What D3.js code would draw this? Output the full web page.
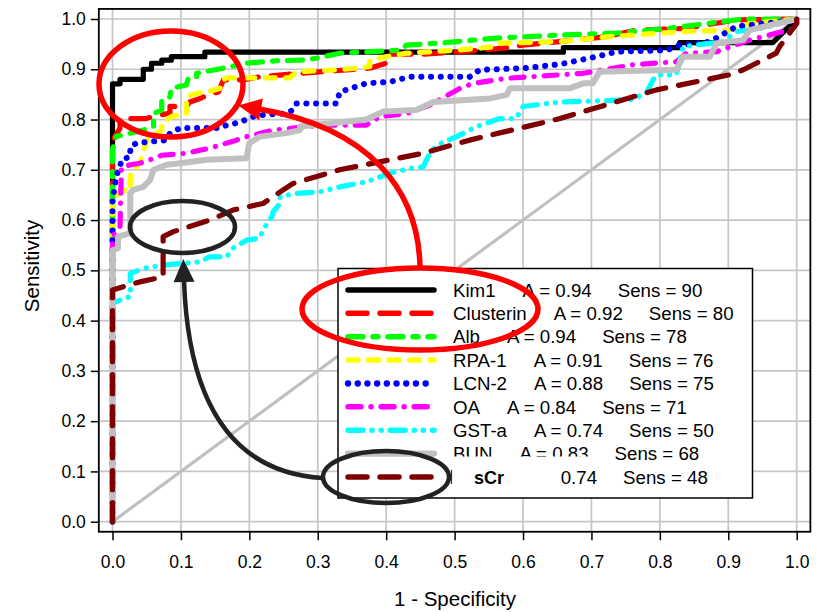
<!DOCTYPE html>
<html>
<head>
<meta charset="utf-8">
<script src="https://cdn.jsdelivr.net/npm/d3@7"></script>
<style>
body{margin:0;background:#fff}
text{font-family:"Liberation Sans",Arial,sans-serif;fill:#000}
</style>
</head>
<body>
<svg id="roc" width="819" height="612"></svg>
<script>
// legend texts
var names=["Kim1","Clusterin","Alb","RPA-1","LCN-2","OA","GST-a","BUN","sCr"]
var aucLabels=["A = 0.94","A = 0.92","A = 0.94","A = 0.91","A = 0.88","A = 0.84","A = 0.74","A = 0.83","A = 0.74"]
var sensLabels=["Sens = 90","Sens = 80","Sens = 78","Sens = 76","Sens = 75","Sens = 71","Sens = 50","Sens = 68","Sens = 48"]
var tickValues=[0,0.1,0.2,0.3,0.4,0.5,0.6,0.7,0.8,0.9,1.0]

// ROC curves, [1-specificity, sensitivity]
var kim1=[[0,0],[0,0.871],[0.011,0.871],[0.011,0.880],[0.045,0.880],[0.045,0.900],[0.057,0.900],[0.057,0.912],[0.072,0.912],[0.072,0.918],[0.086,0.918],[0.086,0.925],[0.135,0.925],[0.135,0.934],[0.659,0.934],[0.659,0.943],[0.829,0.943],[0.829,0.953],[0.965,0.953],[1,1]]
var clusterin=[[0,0],[0,0.757],[0.011,0.783],[0.011,0.802],[0.049,0.802],[0.06,0.806],[0.084,0.813],[0.084,0.826],[0.108,0.826],[0.113,0.835],[0.128,0.842],[0.142,0.850],[0.155,0.855],[0.160,0.872],[0.162,0.879],[0.191,0.879],[0.215,0.885],[0.274,0.892],[0.376,0.902],[0.40,0.912],[0.405,0.930],[0.454,0.930],[0.512,0.935],[0.571,0.942],[0.60,0.948],[0.654,0.955],[0.722,0.965],[0.766,0.978],[0.834,0.981],[0.912,0.998],[1,1]]
var alb=[[0,0],[0,0.74],[0.005,0.766],[0.045,0.779],[0.06,0.786],[0.06,0.812],[0.072,0.819],[0.072,0.839],[0.084,0.845],[0.086,0.862],[0.108,0.869],[0.111,0.882],[0.123,0.885],[0.123,0.892],[0.150,0.899],[0.172,0.905],[0.196,0.912],[0.240,0.917],[0.274,0.918],[0.298,0.922],[0.332,0.932],[0.420,0.938],[0.43,0.948],[0.478,0.952],[0.561,0.962],[0.654,0.968],[0.737,0.972],[0.81,0.981],[0.921,1],[1,1]]
var rpa1=[[0,0],[0,0.63],[0.011,0.659],[0.026,0.659],[0.026,0.693],[0.04,0.713],[0.05,0.759],[0.072,0.779],[0.072,0.793],[0.086,0.806],[0.108,0.812],[0.108,0.845],[0.123,0.852],[0.138,0.855],[0.157,0.862],[0.162,0.879],[0.167,0.883],[0.259,0.883],[0.269,0.895],[0.332,0.899],[0.376,0.905],[0.376,0.918],[0.40,0.925],[0.43,0.932],[0.503,0.938],[0.561,0.945],[0.566,0.952],[0.654,0.955],[0.727,0.965],[0.834,0.975],[0.902,0.978],[0.931,0.991],[1,1]]
var lcn2=[[0,0],[0,0.64],[0.006,0.69],[0.011,0.706],[0.013,0.720],[0.026,0.726],[0.026,0.746],[0.035,0.753],[0.055,0.756],[0.079,0.759],[0.084,0.773],[0.099,0.783],[0.157,0.783],[0.167,0.789],[0.181,0.793],[0.196,0.800],[0.206,0.806],[0.225,0.810],[0.254,0.812],[0.264,0.819],[0.269,0.832],[0.328,0.832],[0.332,0.855],[0.371,0.872],[0.405,0.875],[0.435,0.885],[0.522,0.885],[0.537,0.899],[0.60,0.902],[0.654,0.910],[0.707,0.925],[0.737,0.935],[0.81,0.938],[0.829,0.948],[0.873,0.955],[0.912,0.985],[1,0.998],[1,1]]
var oa=[[0,0],[0,0.567],[0.011,0.587],[0.013,0.704],[0.026,0.710],[0.04,0.713],[0.055,0.720],[0.072,0.729],[0.108,0.733],[0.142,0.743],[0.157,0.749],[0.181,0.759],[0.196,0.766],[0.235,0.779],[0.264,0.783],[0.308,0.789],[0.371,0.789],[0.391,0.806],[0.43,0.812],[0.464,0.829],[0.508,0.862],[0.527,0.872],[0.576,0.882],[0.654,0.889],[0.688,0.892],[0.761,0.909],[0.824,0.915],[0.839,0.932],[0.883,0.935],[0.931,0.958],[1,0.982],[1,1]]
var gsta=[[0,0],[0,0.434],[0.006,0.438],[0.026,0.448],[0.026,0.494],[0.045,0.504],[0.079,0.511],[0.103,0.514],[0.128,0.517],[0.142,0.527],[0.167,0.527],[0.176,0.544],[0.196,0.560],[0.215,0.564],[0.220,0.580],[0.233,0.607],[0.235,0.617],[0.245,0.633],[0.245,0.647],[0.269,0.653],[0.303,0.656],[0.332,0.666],[0.371,0.676],[0.405,0.693],[0.435,0.703],[0.454,0.706],[0.464,0.733],[0.474,0.749],[0.503,0.766],[0.532,0.786],[0.566,0.802],[0.59,0.802],[0.60,0.826],[0.654,0.835],[0.756,0.839],[0.78,0.852],[0.79,0.879],[0.795,0.889],[0.824,0.889],[0.834,0.945],[0.892,0.955],[0.912,0.975],[0.951,0.982],[1,1]]
var bun=[[0,0],[0,0.54],[0.008,0.544],[0.008,0.567],[0.026,0.574],[0.026,0.653],[0.03,0.660],[0.045,0.666],[0.055,0.680],[0.06,0.700],[0.079,0.710],[0.099,0.713],[0.138,0.720],[0.196,0.723],[0.198,0.740],[0.20,0.753],[0.215,0.766],[0.254,0.773],[0.274,0.779],[0.274,0.786],[0.371,0.800],[0.396,0.816],[0.444,0.819],[0.469,0.835],[0.552,0.842],[0.576,0.849],[0.581,0.862],[0.668,0.862],[0.688,0.872],[0.702,0.872],[0.712,0.895],[0.824,0.899],[0.834,0.925],[0.873,0.925],[0.883,0.952],[0.922,0.958],[0.931,0.978],[1,1]]
var scr=[[0,0],[0,0.461],[0.04,0.477],[0.074,0.487],[0.074,0.567],[0.089,0.577],[0.142,0.600],[0.176,0.620],[0.220,0.633],[0.235,0.647],[0.264,0.673],[0.332,0.700],[0.454,0.733],[0.522,0.759],[0.654,0.802],[0.795,0.859],[0.902,0.889],[0.922,0.899],[0.97,0.932],[0.975,0.945],[1,0.991],[1,1]]
var diagonal=[[0,0],[1,1]]

var series=[kim1,clusterin,alb,rpa1,lcn2,oa,gsta,bun,scr]

// line looks, in legend order
var styles=[
    {color:"#000000",dash:null,w:5.2},
    {color:"#ff0000",dash:"19,13",w:5.2},
    {color:"#00ff00",dash:"15,10,5,10",w:5.2},
    {color:"#ffff00",dash:"10,10.5",w:5.2},
    {color:"#0000ff",dash:"0.1,9.6",w:6},
    {color:"#ff00ff",dash:"13,10,0.1,10",w:5.2},
    {color:"#00ffff",dash:"15,9,0.1,9,0.1,9",w:5.2},
    {color:"#c0c0c0",dash:null,w:6},
    {color:"#7f0000",dash:"19,13",w:5.2}
]

var svg=d3.select("#roc")
var xScale=d3.scaleLinear().domain([0,1]).range([112.5,796.7])
var yScale=d3.scaleLinear().domain([0,1]).range([521.7,19])
var box={left:xScale(-0.02),right:xScale(1.02),top:yScale(1.02),bottom:yScale(-0.02)}

//grid
var grid=svg.append("g").attr("stroke","#c6c6c6").attr("stroke-width",1.7)
grid.selectAll(".gx").data(tickValues).enter().append("line")
    .attr("x1",function(d){return xScale(d)}).attr("x2",function(d){return xScale(d)})
    .attr("y1",box.top).attr("y2",box.bottom)
grid.selectAll(".gy").data(tickValues).enter().append("line")
    .attr("y1",function(d){return yScale(d)}).attr("y2",function(d){return yScale(d)})
    .attr("x1",box.left).attr("x2",box.right)

var lineGenerator=d3.line()
    .x(function(d){return xScale(d[0])})
    .y(function(d){return yScale(d[1])})

//chance line
svg.append("path").datum(diagonal).attr("d",lineGenerator)
    .attr("fill","none").attr("stroke","#c0c0c0").attr("stroke-width",3.2)

//curves
svg.append("g").selectAll("path").data(series).enter().append("path")
    .attr("d",lineGenerator)
    .attr("fill","none")
    .attr("stroke",function(d,i){return styles[i].color})
    .attr("stroke-width",function(d,i){return styles[i].w})
    .attr("stroke-dasharray",function(d,i){return styles[i].dash})
    .attr("stroke-linecap",function(d,i){return styles[i].dash?"round":"butt"})
    .attr("stroke-linejoin","round")

//box
svg.append("rect").attr("x",box.left).attr("y",box.top)
    .attr("width",box.right-box.left).attr("height",box.bottom-box.top)
    .attr("fill","none").attr("stroke","#000").attr("stroke-width",1.8)

//axes
var fmt=d3.format(".1f")
svg.append("g").attr("transform","translate(0,"+box.bottom+")")
    .call(d3.axisBottom(xScale).tickValues(tickValues).tickFormat(fmt).tickSize(8.5).tickPadding(15))
svg.append("g").attr("transform","translate("+box.left+",0)")
    .call(d3.axisLeft(yScale).tickValues(tickValues).tickFormat(fmt).tickSize(8).tickPadding(5))
svg.selectAll(".domain").remove()
svg.selectAll(".tick line").attr("stroke","#000").attr("stroke-width",1.5)
svg.selectAll(".tick text").attr("font-size",17.5).attr("font-family","Liberation Sans, Arial, sans-serif").attr("fill","#000")

//titles
svg.append("text").text("1 - Specificity").attr("x",455).attr("y",606)
    .attr("text-anchor","middle").attr("font-size",20.5)
svg.append("text").text("Sensitivity").attr("transform","translate(39,266) rotate(-90)")
    .attr("text-anchor","middle").attr("font-size",20.5)

//legend
var leg=svg.append("g")
leg.append("rect").attr("x",338).attr("y",268.5).attr("width",414.5).attr("height",229.5)
    .attr("fill","#fff").attr("stroke","#000").attr("stroke-width",1.5)
var rowY=function(i){return 290+i*23.37}
leg.selectAll(".sample").data(series).enter().append("line")
    .attr("x1",348).attr("x2",434)
    .attr("y1",function(d,i){return rowY(i)}).attr("y2",function(d,i){return rowY(i)})
    .attr("stroke",function(d,i){return styles[i].color})
    .attr("stroke-width",function(d,i){return styles[i].w+0.3})
    .attr("stroke-dasharray",function(d,i){return styles[i].dash})
    .attr("stroke-linecap","round")
var last=names.length-1
var rows=leg.selectAll(".row").data(names).enter().append("text")
    .attr("font-size",18.7)
    .attr("y",function(d,i){return rowY(i)+6.7})
    .attr("x",function(d,i){return i==last?528:453})
rows.append("tspan").text(function(d,i){return i==last?"":d})
rows.append("tspan").attr("dx",function(d,i){return i==last?0:27}).text(function(d,i){return aucLabels[i]})
rows.append("tspan").attr("dx",26).text(function(d,i){return sensLabels[i]})

//pasted-over label for the last row
leg.append("path").attr("d","M450,456.5H600V468H559V492H450Z").attr("fill","#fff")
leg.append("line").attr("x1",451.5).attr("x2",451.5).attr("y1",470).attr("y2",484)
    .attr("stroke","#333").attr("stroke-width",1.2)
leg.append("text").text(names[last]).attr("x",474).attr("y",rowY(last)+6.7)
    .attr("font-size",18).attr("font-weight","bold")

//annotations
var drawArrow=function(p0,c1,c2,p3,len,half,color,w){
    svg.append("path")
        .attr("d","M"+p0+"C"+c1+" "+c2+" "+p3)
        .attr("fill","none").attr("stroke",color).attr("stroke-width",w)
    var dx=p3[0]-c2[0],dy=p3[1]-c2[1],n=Math.sqrt(dx*dx+dy*dy)
    var ux=dx/n,uy=dy/n
    var tip=[p3[0]+ux*len,p3[1]+uy*len]
    var b=[p3[0]-ux*2,p3[1]-uy*2]
    svg.append("polygon")
        .attr("points",[tip,[b[0]-uy*half,b[1]+ux*half],[b[0]+uy*half,b[1]-ux*half]].join(" "))
        .attr("fill",color)
}
var ann=svg.append("g").attr("fill","none")
ann.append("ellipse").attr("cx",171).attr("cy",84).attr("rx",72).attr("ry",53)
    .attr("stroke","#ff0000").attr("stroke-width",5.5)
ann.append("ellipse").attr("cx",420).attr("cy",309).attr("rx",118).attr("ry",41)
    .attr("stroke","#ff0000").attr("stroke-width",5.5)
ann.append("ellipse").attr("cx",182.5).attr("cy",227).attr("rx",52.5).attr("ry",26)
    .attr("stroke","#222").attr("stroke-width",4.5)
ann.append("ellipse").attr("cx",386).attr("cy",477).attr("rx",63).attr("ry",26)
    .attr("stroke","#222").attr("stroke-width",4.5)
drawArrow([420,266],[418,190],[370,128],[259,109],21,11,"#ff0000",5.5)
drawArrow([322,478],[230,472],[188,400],[184,280],21,10.5,"#222",4.5)
</script>
</body>
</html>
